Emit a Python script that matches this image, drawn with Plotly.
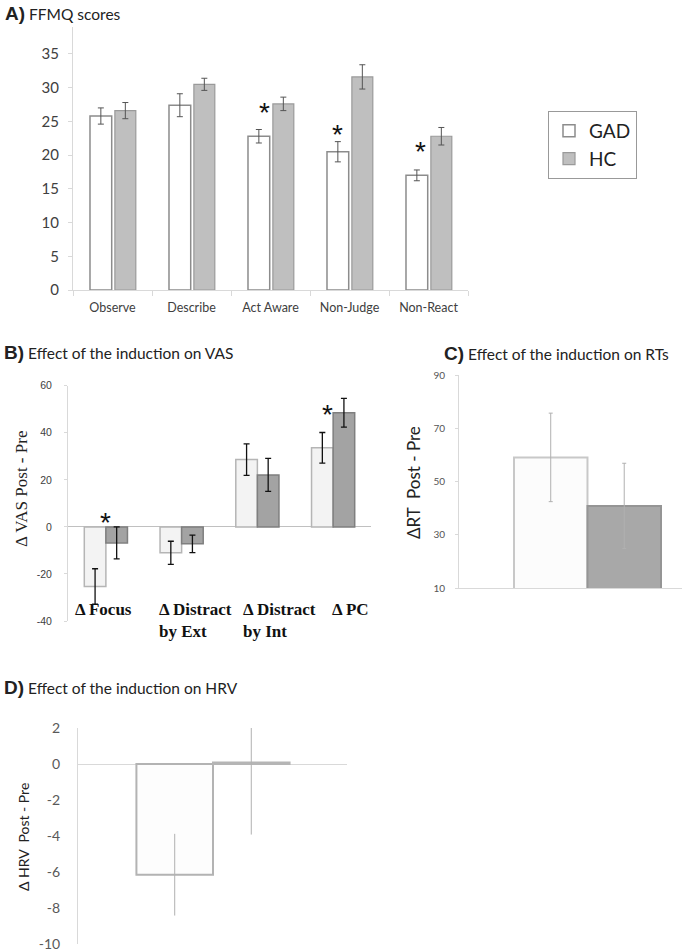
import plotly.graph_objects as go

W, H = 692, 952

# ---------------- Data ----------------
# Panel A: FFMQ scores
ffmq_categories = ["Observe", "Describe", "Act Aware", "Non-Judge", "Non-React"]
ffmq_gad = [25.8, 27.4, 22.8, 20.5, 17.0]
ffmq_gad_err = [1.2, 1.7, 1.0, 1.5, 0.8]
ffmq_hc = [26.6, 30.5, 27.6, 31.6, 22.8]
ffmq_hc_err = [1.2, 0.9, 1.0, 1.8, 1.3]
ffmq_ticks = [0, 5, 10, 15, 20, 25, 30, 35]
ffmq_star_pos = [1.93, 2.85, 3.9]
ffmq_star_y = [27.2, 24.0, 21.4]

# Panel B: VAS
vas_categories = ["Δ Focus", "Δ Distract<br>by Ext", "Δ Distract<br>by Int", "Δ PC"]
vas_gad = [-25.3, -11.0, 28.6, 33.6]
vas_gad_err = [7.5, 4.9, 6.7, 6.5]
vas_hc = [-6.8, -7.2, 22.1, 48.5]
vas_hc_err = [6.8, 3.7, 7.0, 6.1]
vas_ticks = [-40, -20, 0, 20, 40, 60]
vas_star_pos = [0.0, 2.92]
vas_star_y = [4.5, 50.4]
vas_label_shift = [-33, -25, -16, -3]   # left-aligned label offsets (px)

# Panel C: RTs
groups = ["GAD", "HC"]
rt_values = [59.1, 40.9]
rt_err = [16.6, 16.0]
rt_ticks = [10, 30, 50, 70, 90]

# Panel D: HRV
hrv_values = [-6.15, 0.08]
hrv_err_plus = [2.27, 2.0]
hrv_err_minus = [2.27, 4.0]
hrv_ticks = [-10, -8, -6, -4, -2, 0, 2]


def xd(a, b):
    return [a / W, b / W]


def yd(top, bottom):
    return [1 - bottom / H, 1 - top / H]


def labels(vals):
    return [str(v) for v in vals]


fig = go.Figure()

# ---- Panel A ----
fig.add_trace(go.Bar(
    x=ffmq_categories, y=ffmq_gad, name="GAD", xaxis="x", yaxis="y",
    width=0.275, offset=-0.285,
    marker=dict(color="#ffffff", line=dict(color="#8c8c8c", width=1.5)),
    error_y=dict(type="data", array=ffmq_gad_err, color="#555555", thickness=1, width=3),
    legendgroup="GAD", showlegend=True))
fig.add_trace(go.Bar(
    x=ffmq_categories, y=ffmq_hc, name="HC", xaxis="x", yaxis="y",
    width=0.265, offset=0.03,
    marker=dict(color="#bfbfbf", line=dict(color="#9a9a9a", width=1.2)),
    error_y=dict(type="data", array=ffmq_hc_err, color="#555555", thickness=1, width=3),
    legendgroup="HC", showlegend=True))

# ---- Panel B ----
fig.add_trace(go.Bar(
    x=vas_categories, y=vas_gad, name="GAD", xaxis="x2", yaxis="y2",
    width=0.285, offset=-0.285,
    marker=dict(color="#f3f3f3", line=dict(color="#b5b5b5", width=1.5)),
    error_y=dict(type="data", array=vas_gad_err, color="#111111", thickness=1.3, width=3),
    legendgroup="GAD", showlegend=False))
fig.add_trace(go.Bar(
    x=vas_categories, y=vas_hc, name="HC", xaxis="x2", yaxis="y2",
    width=0.285, offset=0.0,
    marker=dict(color="#a3a3a3", line=dict(color="#7f7f7f", width=1.5)),
    error_y=dict(type="data", array=vas_hc_err, color="#111111", thickness=1.3, width=3),
    legendgroup="HC", showlegend=False))

# ---- Panel C ----
fig.add_trace(go.Bar(
    x=groups, y=rt_values, xaxis="x3", yaxis="y3", width=1,
    marker=dict(color=["#fcfcfc", "#a8a8a8"],
                line=dict(color=["#c8c8c8", "#959595"], width=2)),
    error_y=dict(type="data", array=rt_err, color="#b0b0b0", thickness=1, width=2),
    showlegend=False))

# ---- Panel D ----
fig.add_trace(go.Bar(
    x=groups, y=hrv_values, xaxis="x4", yaxis="y4", width=1,
    marker=dict(color=["#fdfdfd", "#b5b5b5"],
                line=dict(color=["#b3b3b3", "#b5b5b5"], width=2)),
    error_y=dict(type="data", symmetric=False, array=hrv_err_plus,
                 arrayminus=hrv_err_minus, color="#b0b0b0", thickness=1, width=0),
    showlegend=False))

axis_gray = "#d9d9d9"
SANS = "Lato"
SERIF = "Liberation Serif"

fig.update_layout(
    width=W, height=H, margin=dict(l=0, r=0, t=0, b=0, autoexpand=False),
    paper_bgcolor="white", plot_bgcolor="white",
    barmode="overlay", font=dict(family=SANS, color="#333333"),
    showlegend=True,
    legend=dict(x=548 / W, y=1 - 111 / H, xanchor="left", yanchor="top",
                font=dict(family=SANS, size=19, color="#222222"),
                bordercolor="#999999", borderwidth=1, bgcolor="white",
                tracegroupgap=0),
    # A
    xaxis=dict(domain=xd(73, 468), type="category", showline=True, linecolor=axis_gray,
               ticks="outside", tickson="boundaries", ticklen=5, tickcolor=axis_gray,
               tickfont=dict(size=12.5, color="#404040"), ticklabelstandoff=6,
               showgrid=False, zeroline=False, anchor="y", automargin=False),
    yaxis=dict(domain=yd(27, 290), range=[0, 39], tickvals=ffmq_ticks,
               ticktext=labels(ffmq_ticks), showline=True,
               linecolor=axis_gray, ticks="outside", ticklen=4, tickcolor=axis_gray,
               tickfont=dict(size=15, color="#404040"), ticklabelstandoff=6,
               showgrid=False, zeroline=False, anchor="x", automargin=False),
    # B
    xaxis2=dict(domain=xd(68, 371), type="category", range=[-0.5, 3.5], showline=False,
                showticklabels=False, ticks="", showgrid=False, zeroline=False, anchor="y2",
                automargin=False),
    yaxis2=dict(domain=yd(385.7, 621), range=[-40, 60], tickvals=vas_ticks,
                ticktext=labels(vas_ticks), showline=True,
                linecolor=axis_gray, ticks="outside", ticklen=3, tickcolor=axis_gray,
                tickfont=dict(family="Liberation Sans", size=10.5, color="#404040"),
                ticklabelstandoff=10, showgrid=False, zeroline=True,
                zerolinecolor="#c0c0c0", zerolinewidth=1, anchor="x2", automargin=False),
    # C
    xaxis3=dict(domain=xd(459, 682), type="category", range=[-1.248, 1.786], showline=True,
                linecolor=axis_gray, showticklabels=False, ticks="", showgrid=False,
                zeroline=False, anchor="y3", automargin=False),
    yaxis3=dict(domain=yd(375, 588.3), range=[10, 90], tickvals=rt_ticks,
                ticktext=labels(rt_ticks), showline=True,
                linecolor=axis_gray, ticks="outside", ticklen=3, tickcolor=axis_gray,
                tickfont=dict(size=10, color="#555555"), ticklabelstandoff=8,
                showgrid=False, zeroline=False, anchor="x3", automargin=False),
    # D
    xaxis4=dict(domain=xd(78, 347), type="category", range=[-1.263, 2.25], showline=False,
                showticklabels=False, ticks="", showgrid=False, zeroline=False, anchor="y4",
                automargin=False),
    yaxis4=dict(domain=yd(728, 944), range=[-10, 2], tickvals=hrv_ticks,
                ticktext=labels(hrv_ticks), showline=True, ticklabeloverflow="allow",
                linecolor=axis_gray, ticks="", tickfont=dict(size=14, color="#595959"),
                ticklabelstandoff=14, showgrid=False, zeroline=True,
                zerolinecolor=axis_gray, zerolinewidth=1, anchor="x4", automargin=False),
)

ann = []


def title(text_label, text, x, y):
    ann.append(dict(
        text=f"<span style='font-family:Liberation Sans;font-weight:bold;font-size:19px'>{text_label}</span> {text}",
        x=x / W, y=1 - y / H, xref="paper", yref="paper", xanchor="left", yanchor="middle",
        showarrow=False, font=dict(family=SANS, size=15.5, color="#222222")))


title("A)", "FFMQ scores", 3, 14)
title("B)", "Effect of the induction on VAS", 2, 352)
title("C)", "Effect of the induction on RTs", 442, 353)
title("D)", "Effect of the induction on HRV", 2, 687)

# asterisks
for px, py in zip(ffmq_star_pos, ffmq_star_y):
    ann.append(dict(text="*", x=px, y=py, xref="x", yref="y", showarrow=False,
                    yanchor="middle", yshift=-6,
                    font=dict(family="Liberation Sans", size=28, color="#111111")))
for px, py in zip(vas_star_pos, vas_star_y):
    ann.append(dict(text="*", x=px, y=py, xref="x2", yref="y2", showarrow=False,
                    yanchor="middle", yshift=-6,
                    font=dict(family="Liberation Sans", size=28, color="#111111")))

# Panel B category labels (left aligned, as in the original)
for i, (lab, sh) in enumerate(zip(vas_categories, vas_label_shift)):
    ann.append(dict(text=f"<b>{lab}</b>", x=i, y=1 - 598 / H, xref="x2", yref="paper",
                    xanchor="left", yanchor="top", xshift=sh, showarrow=False, align="left",
                    font=dict(family=SERIF, size=17, color="#111111")))

# y-axis titles
ann.append(dict(text="Δ VAS Post - Pre", x=22 / W, y=1 - 489 / H, xref="paper", yref="paper",
                textangle=-90, showarrow=False, xanchor="center", yanchor="middle",
                font=dict(family=SERIF, size=17, color="#222222")))
ann.append(dict(text="ΔRT\u00a0 Post - Pre", x=413 / W, y=1 - 483 / H, xref="paper", yref="paper",
                textangle=-90, showarrow=False, xanchor="center", yanchor="middle",
                font=dict(family=SANS, size=17, color="#222222")))
ann.append(dict(text="Δ HRV\u00a0 Post - Pre", x=23 / W, y=1 - 837 / H, xref="paper", yref="paper",
                textangle=-90, showarrow=False, xanchor="center", yanchor="middle",
                font=dict(family=SANS, size=14, color="#222222")))

fig.update_layout(annotations=ann)

fig.write_html("out.html", config={"displayModeBar": False},
               post_script="document.body.style.margin='0';document.body.style.padding='0';")
